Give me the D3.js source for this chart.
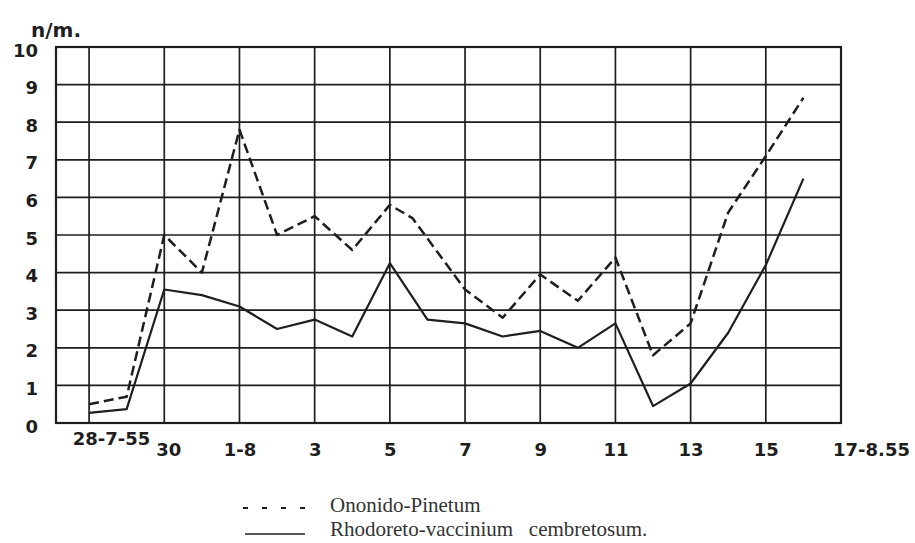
<!DOCTYPE html>
<html>
<head>
<meta charset="utf-8">
<script src="https://cdn.jsdelivr.net/npm/d3@7"></script>
<style>
  html, body { margin: 0; padding: 0; background: #fff; }
  svg { display: block; }
</style>
</head>
<body>
<svg id="chart" width="915" height="543"></svg>
<script>
// ---- data (day offset from 28 July 1955) ----
const yTicks = [0, 1, 2, 3, 4, 5, 6, 7, 8, 9, 10];
const xTickDays = [0, 2, 4, 6, 8, 10, 12, 14, 16, 18, 20];
const xTickLabels = ["28-7-55", "30", "1-8", "3", "5", "7", "9", "11", "13", "15", "17-8.55"];

const ononidoDays = [0, 1, 2, 3, 4, 5, 6, 7, 8, 8.6, 10, 11, 12, 13, 14, 15, 16, 17, 18, 19];
const ononidoValues = [0.5, 0.7, 5.0, 4.0, 7.8, 5.0, 5.5, 4.6, 5.8, 5.45, 3.55, 2.8, 3.95, 3.25, 4.4, 1.8, 2.65, 5.6, 7.1, 8.65];

const rhodoDays = [0, 1, 2, 3, 4, 5, 6, 7, 8, 9, 10, 11, 12, 13, 14, 15, 16, 17, 18, 19];
const rhodoValues = [0.27, 0.37, 3.55, 3.4, 3.1, 2.5, 2.75, 2.3, 4.25, 2.75, 2.65, 2.3, 2.45, 2.0, 2.65, 0.45, 1.05, 2.4, 4.2, 6.5];

const seriesNames = ["Ononido-Pinetum", "Rhodoreto-vaccinium   cembretosum."];
const yUnit = "n/m.";

// ---- layout ----
const svg = d3.select("#chart");
const pLeft = 56, pRight = 841, pTop = 47, pBottom = 423;
const ink = "#1e1e1e";

const x = d3.scaleLinear().domain([-0.88, 20]).range([pLeft, pRight]);
const y = d3.scaleLinear().domain([0, 10]).range([pBottom, pTop]);

// grid: horizontal
svg.append("g").selectAll("line").data(yTicks).join("line")
  .attr("x1", pLeft).attr("x2", pRight)
  .attr("y1", d => y(d)).attr("y2", d => y(d))
  .attr("stroke", ink).attr("stroke-width", 1.7);

// grid: vertical
svg.append("g").selectAll("line").data(xTickDays.slice(0, -1)).join("line")
  .attr("x1", d => x(d)).attr("x2", d => x(d))
  .attr("y1", pTop).attr("y2", pBottom)
  .attr("stroke", ink).attr("stroke-width", 1.7);

// frame
svg.append("rect")
  .attr("x", pLeft).attr("y", pTop)
  .attr("width", pRight - pLeft).attr("height", pBottom - pTop)
  .attr("fill", "none").attr("stroke", ink).attr("stroke-width", 2.2);

// y axis labels
const yAxis = d3.axisLeft(y).tickValues(yTicks).tickSize(0).tickPadding(0).tickFormat(d3.format("d"));
const gy = svg.append("g").attr("transform", `translate(${pLeft - 18},0)`).call(yAxis);
gy.select(".domain").remove();
gy.selectAll("text")
  .attr("font-family", "DejaVu Sans, sans-serif")
  .attr("font-weight", "bold")
  .attr("font-size", 18)
  .attr("fill", ink)
  .attr("dy", "0.5em");

// x axis labels
const xAxis = d3.axisBottom(x).tickValues(xTickDays).tickSize(0).tickPadding(0)
  .tickFormat((d, i) => xTickLabels[i]);
const gx = svg.append("g").attr("transform", `translate(0,${pBottom + 28})`).call(xAxis);
gx.select(".domain").remove();
gx.selectAll("text")
  .attr("font-family", "DejaVu Sans, sans-serif")
  .attr("font-weight", "bold")
  .attr("font-size", 18)
  .attr("fill", ink)
  .attr("dy", "0.3em")
  .attr("dx", (d, i) => i === 0 ? 22 : (i === xTickLabels.length - 1 ? 30 : (i === 1 ? 4 : 0)))
  .attr("transform", (d, i) => i === 0 ? "translate(0,-11)" : null);

// unit label
svg.append("text")
  .attr("x", 31).attr("y", 37)
  .attr("font-family", "DejaVu Sans, sans-serif")
  .attr("font-weight", "bold")
  .attr("font-size", 20)
  .attr("fill", ink)
  .text(yUnit);

// lines
const line = d3.line().x(d => x(d[0])).y(d => y(d[1]));
const ononido = ononidoDays.map((d, i) => [d, ononidoValues[i]]);
const rhodo = rhodoDays.map((d, i) => [d, rhodoValues[i]]);

svg.append("path").datum(ononido)
  .attr("d", line)
  .attr("fill", "none").attr("stroke", ink)
  .attr("stroke-width", 2.5).attr("stroke-dasharray", "10,5")
  .attr("stroke-linejoin", "round");

svg.append("path").datum(rhodo)
  .attr("d", line)
  .attr("fill", "none").attr("stroke", ink)
  .attr("stroke-width", 2.2)
  .attr("stroke-linejoin", "round");

// legend
const lg = svg.append("g");
lg.append("line").attr("x1", 243).attr("x2", 310).attr("y1", 508).attr("y2", 508)
  .attr("stroke", ink).attr("stroke-width", 2).attr("stroke-dasharray", "5,14");
lg.append("line").attr("x1", 245).attr("x2", 305).attr("y1", 534).attr("y2", 534)
  .attr("stroke", ink).attr("stroke-width", 1.6);
lg.selectAll("text").data(seriesNames).join("text")
  .attr("x", 330)
  .attr("y", (d, i) => 512 + i * 24)
  .attr("font-family", "Liberation Serif, serif")
  .attr("font-size", 21)
  .attr("fill", "#333")
  .attr("xml:space", "preserve")
  .style("white-space", "pre")
  .text(d => d);
</script>
</body>
</html>
